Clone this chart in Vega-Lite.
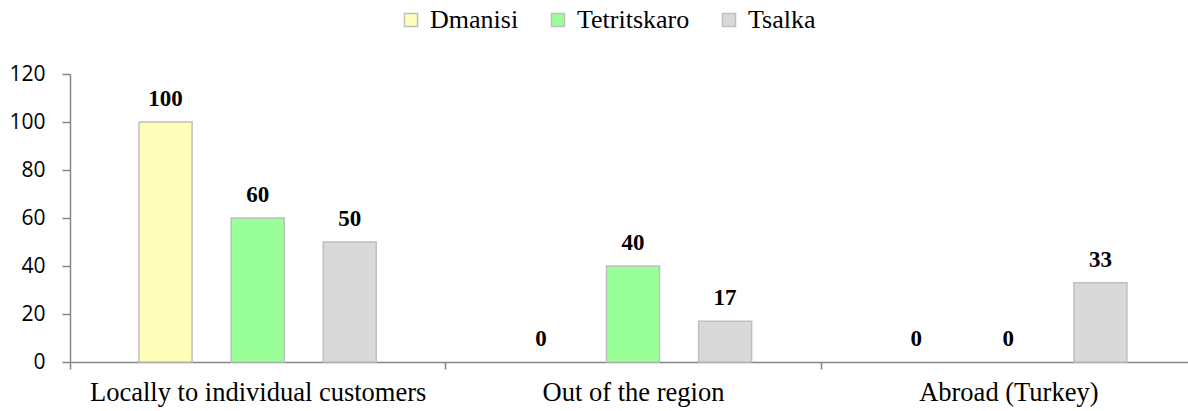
{
  "$schema": "https://vega.github.io/schema/vega-lite/v6.json",
  "autosize": "none",
  "width": 1118,
  "height": 288,
  "padding": {"left": 70, "top": 74, "right": 0, "bottom": 49},
  "background": "white",
  "config": {
    "font": "Liberation Serif",
    "view": {"stroke": null}
  },
  "data": {"values": [
    {"dest": "Locally to individual customers", "district": "Dmanisi", "value": 100},
    {"dest": "Locally to individual customers", "district": "Tetritskaro", "value": 60},
    {"dest": "Locally to individual customers", "district": "Tsalka", "value": 50},
    {"dest": "Out of the region", "district": "Dmanisi", "value": 0},
    {"dest": "Out of the region", "district": "Tetritskaro", "value": 40},
    {"dest": "Out of the region", "district": "Tsalka", "value": 17},
    {"dest": "Abroad (Turkey)", "district": "Dmanisi", "value": 0},
    {"dest": "Abroad (Turkey)", "district": "Tetritskaro", "value": 0},
    {"dest": "Abroad (Turkey)", "district": "Tsalka", "value": 33}
  ]},
  "encoding": {
    "x": {
      "field": "dest", "type": "nominal", "sort": null, "title": null,
      "scale": {"range": [0, 1126], "paddingInner": 0, "paddingOuter": 0},
      "axis": {
        "labelAngle": 0, "labelFont": "Liberation Serif", "labelFontSize": 26.5, "labelColor": "black", "labelLimit": 0,
        "domainColor": "#868686", "domainWidth": 1.5, "tickColor": "#868686", "tickWidth": 1.5, "tickSize": 7,
        "tickBand": "extent", "labelPadding": 10
      }
    },
    "xOffset": {"field": "district", "type": "nominal", "scale": {"domain": ["Dmanisi", "Tetritskaro", "Tsalka"], "paddingInner": 0.424, "paddingOuter": 0.75}},
    "y": {
      "field": "value", "type": "quantitative", "title": null,
      "scale": {"domain": [0, 120]},
      "axis": {
        "values": [0, 20, 40, 60, 80, 100, 120], "grid": false,
        "labelFont": "Open Sans", "labelFontSize": 21, "labelColor": "black", "labelPadding": 17,
        "domainColor": "#868686", "domainWidth": 1.5, "tickColor": "#868686", "tickWidth": 1.5, "tickSize": 8
      }
    }
  },
  "layer": [
    {
      "transform": [{"filter": "datum.value > 0"}],
      "mark": {"type": "bar", "stroke": "#BFBFBF", "strokeWidth": 1.5},
      "encoding": {
        "fill": {
          "field": "district", "type": "nominal", "title": null,
          "scale": {"domain": ["Dmanisi", "Tetritskaro", "Tsalka"], "range": ["#FFFFBB", "#99FF99", "#D9D9D9"]},
          "legend": {
            "orient": "none", "direction": "horizontal", "legendX": 328, "legendY": -67,
            "labelFont": "Liberation Serif", "labelFontSize": 26, "labelColor": "black", "labelLimit": 0,
            "symbolType": "square", "symbolSize": 170, "symbolStrokeColor": "#BFBFBF", "symbolStrokeWidth": 1.5,
            "labelOffset": 6, "columnPadding": 26
          }
        }
      }
    },
    {
      "mark": {"type": "text", "font": "Liberation Serif", "fontSize": 23, "fontWeight": "bold", "baseline": "alphabetic", "dy": -16, "fill": "black"},
      "encoding": {"text": {"field": "value", "type": "quantitative"}}
    }
  ]
}
